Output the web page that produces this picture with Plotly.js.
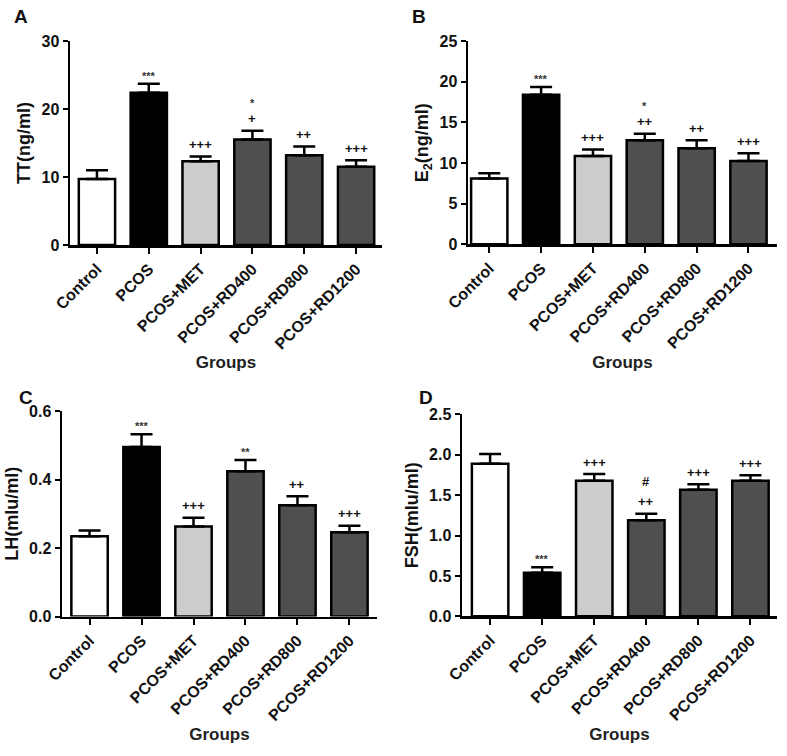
<!DOCTYPE html>
<html>
<head>
<meta charset="utf-8">
<script src="https://cdn.plot.ly/plotly-3.0.1.min.js"></script>
<style>html,body{margin:0;padding:0;background:#fff;}#chart{width:787px;height:756px;}</style>
</head>
<body>
<div id="chart"></div>
<script>
// ---- data ----
const groups = ["Control", "PCOS", "PCOS+MET", "PCOS+RD400", "PCOS+RD800", "PCOS+RD1200"];
const barColors = ["#ffffff", "#000000", "#cccccc", "#4f4f4f", "#4f4f4f", "#4f4f4f"];

const ttMean = [9.7, 22.4, 12.3, 15.5, 13.2, 11.5];
const ttErr  = [1.3, 1.3, 0.7, 1.3, 1.3, 0.95];
const ttSig  = [[], ["***"], ["+++"], ["+", "*"], ["++"], ["+++"]];

const e2Mean = [8.1, 18.4, 10.85, 12.8, 11.8, 10.25];
const e2Err  = [0.65, 0.95, 0.8, 0.8, 1.0, 0.95];
const e2Sig  = [[], ["***"], ["+++"], ["++", "*"], ["++"], ["+++"]];

const lhMean = [0.234, 0.495, 0.263, 0.424, 0.325, 0.246];
const lhErr  = [0.017, 0.037, 0.025, 0.033, 0.026, 0.019];
const lhSig  = [[], ["***"], ["+++"], ["**"], ["++"], ["+++"]];

const fshMean = [1.887, 0.54, 1.677, 1.19, 1.565, 1.677];
const fshErr  = [0.123, 0.067, 0.083, 0.078, 0.07, 0.07];
const fshSig  = [[], ["***"], ["+++"], ["++", "#"], ["+++"], ["+++"]];

const panels = [
  {letter: "A", mean: ttMean, err: ttErr, sig: ttSig, ytitle: "TT(ng/ml)", yrange: [0, 30], dtick: 10, tickformat: "d"},
  {letter: "B", mean: e2Mean, err: e2Err, sig: e2Sig, ytitle: "E<sub>2</sub>(ng/ml)", yrange: [0, 25], dtick: 5, tickformat: "d"},
  {letter: "C", mean: lhMean, err: lhErr, sig: lhSig, ytitle: "LH(mlu/ml)", yrange: [0, 0.6], dtick: 0.2, tickformat: ".1f"},
  {letter: "D", mean: fshMean, err: fshErr, sig: fshSig, ytitle: "FSH(mlu/ml)", yrange: [0, 2.5], dtick: 0.5, tickformat: ".1f"}
];

// ---- layout geometry (pixels in 787x756) ----
const W = 787, H = 756;
const geo = [
  {x0: 70, x1: 382, yTop: 41, yBot: 245, xr: [-0.52, 5.5], lx: 12, ly: 17},
  {x0: 468, x1: 777, yTop: 41, yBot: 244.3, xr: [-0.41, 5.55], lx: 410, ly: 17},
  {x0: 62, x1: 377, yTop: 411, yBot: 616.5, xr: [-0.53, 5.53], lx: 17, ly: 397},
  {x0: 462, x1: 777, yTop: 414.3, yBot: 616.3, xr: [-0.54, 5.51], lx: 417, ly: 397}
];

const FONT = "Liberation Sans, Arial, sans-serif";
const traces = [];
const layout = {
  width: W, height: H,
  margin: {l: 0, r: 0, t: 0, b: 0},
  paper_bgcolor: "#fff", plot_bgcolor: "#fff",
  showlegend: false,
  annotations: []
};

panels.forEach((p, i) => {
  const g = geo[i];
  const n = i === 0 ? "" : String(i + 1);
  const xk = "x" + n, yk = "y" + n;
  traces.push({
    type: "bar", x: groups, y: p.mean,
    xaxis: xk, yaxis: yk,
    width: 0.7,
    marker: {color: barColors, line: {color: "#000", width: 2.5}},
    error_y: {type: "data", symmetric: false, array: p.err, arrayminus: p.err.map(() => 0),
              color: "#000", thickness: 2.5, width: 11},
    hoverinfo: "skip"
  });
  layout["xaxis" + n] = {
    domain: [g.x0 / W, g.x1 / W], anchor: yk, type: "category",
    range: g.xr, showgrid: false, zeroline: false,
    showline: true, linecolor: "#000", linewidth: 2.5,
    ticks: "outside", ticklen: 6, tickwidth: 2, tickcolor: "#000",
    tickangle: -45,
    tickfont: {family: FONT, size: 16, color: "#111", weight: "bold"},
    title: {text: "Groups", font: {family: FONT, size: 17, color: "#222", weight: "bold"}, standoff: 5}
  };
  layout["yaxis" + n] = {
    domain: [1 - g.yBot / H, 1 - g.yTop / H], anchor: xk,
    range: p.yrange, dtick: p.dtick, tick0: 0, tickformat: p.tickformat,
    showgrid: false, zeroline: false,
    showline: true, linecolor: "#000", linewidth: 2.5,
    ticks: "outside", ticklen: 5, tickwidth: 2, tickcolor: "#000",
    tickfont: {family: FONT, size: 16, color: "#111", weight: "bold"},
    title: {text: p.ytitle, font: {family: FONT, size: 18, color: "#111", weight: "bold"}, standoff: 6}
  };
  // significance marks above the error bars
  p.sig.forEach((lines, j) => {
    lines.forEach((txt, k) => {
      const isStar = txt.indexOf("*") >= 0;
      layout.annotations.push({
        xref: xk, yref: yk, x: groups[j], y: p.mean[j] + p.err[j],
        text: txt, showarrow: false, yanchor: "middle", xanchor: "center",
        yshift: (isStar ? 8 : 12) + k * 20,
        font: {family: FONT, size: isStar ? 11 : 13, color: isStar ? "#333" : "#111", weight: "bold"}
      });
    });
  });
  // panel letter
  layout.annotations.push({
    xref: "paper", yref: "paper", x: g.lx / W, y: 1 - g.ly / H,
    xanchor: "left", yanchor: "middle", showarrow: false,
    text: p.letter, font: {family: FONT, size: 19, color: "#111", weight: "bold"}
  });
});

Plotly.newPlot("chart", traces, layout, {staticPlot: true, displayModeBar: false});
</script>
</body>
</html>
